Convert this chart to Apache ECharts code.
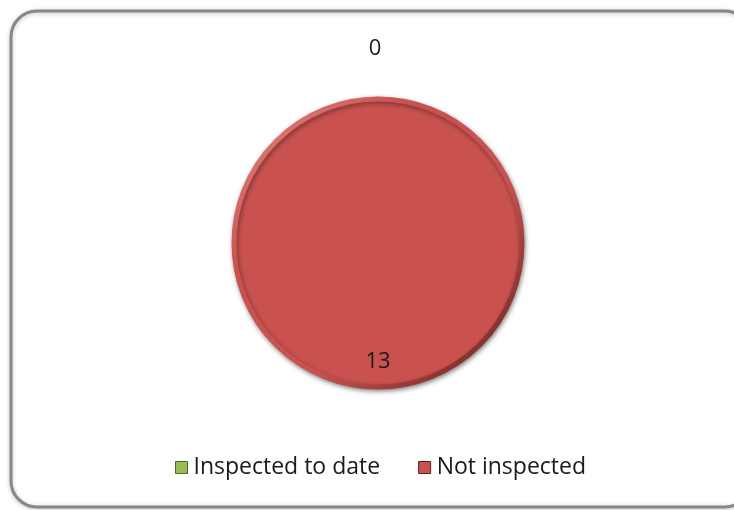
<!DOCTYPE html>
<html>
<head>
<meta charset="utf-8">
<style>
  html, body { margin: 0; padding: 0; background: #ffffff; }
  #chart { width: 734px; height: 510px; }
</style>
<script src="https://cdn.jsdelivr.net/npm/echarts@6/dist/echarts.min.js"></script>
</head>
<body>
<div id="chart"></div>
<script>
// Inspection status counts
const categories = ['Inspected to date', 'Not inspected'];
const counts = [0, 13];
const sliceColors = ['#9bbb59', '#c9524f'];
const lightRims = ['#c4dc8f', '#e88e89'];
const darkRims = ['#4f6a22', '#5e1c1a'];

const chart = echarts.init(document.getElementById('chart'));

// Bevelled look: flat face, rim lit from the top-left and shaded at the bottom-right
function rim(i) {
  return {
    type: 'linear', x: 0, y: 0, x2: 1, y2: 1,
    colorStops: [
      { offset: 0, color: lightRims[i] },
      { offset: 0.3, color: sliceColors[i] },
      { offset: 0.62, color: sliceColors[i] },
      { offset: 1, color: darkRims[i] }
    ]
  };
}

const pieData = categories.map((name, i) => ({
  name: name,
  value: counts[i],
  itemStyle: { color: sliceColors[i], borderColor: rim(i), borderWidth: 5 },
  label: i === 0 ? { position: 'outside' } : { position: 'inside' },
  labelLine: { show: false, length: 50, length2: 0 }
}));

chart.setOption({
  animation: false,
  backgroundColor: '#ffffff',
  graphic: [{
    type: 'rect',
    shape: { x: 11, y: 11, width: 740, height: 496, r: 26 },
    style: { fill: 'none', stroke: '#878787', lineWidth: 3,
             shadowColor: 'rgba(0,0,0,0.25)', shadowBlur: 4, shadowOffsetY: 1 },
    z: 0
  }],
  legend: {
    bottom: 26,
    left: 170,
    itemWidth: 12,
    itemHeight: 12,
    itemGap: 38,
    icon: 'rect',
    textStyle: { fontFamily: 'Open Sans', fontSize: 23, color: '#1a1a1a', padding: [0, 0, 0, 1] },
    data: categories.map((name, i) => ({
      name: name,
      itemStyle: { color: sliceColors[i], borderColor: darkRims[i], borderWidth: 1 }
    }))
  },
  series: [{
    type: 'pie',
    center: [378, 243],
    radius: 144,
    startAngle: 90,
    clockwise: true,
    avoidLabelOverlap: false,
    minShowLabelAngle: 0,
    itemStyle: {
      shadowColor: 'rgba(0,0,0,0.4)',
      shadowBlur: 5,
      shadowOffsetX: 1,
      shadowOffsetY: 2
    },
    label: {
      show: true,
      formatter: '{c}',
      fontFamily: 'Open Sans',
      fontSize: 22,
      color: '#1a1a1a'
    },
    labelLayout: function (params) {
      if (params.dataIndex === 0) return { align: 'center', dx: 2 };
      return { dy: 44 };
    },
    emphasis: { disabled: true },
    data: pieData
  }]
});
</script>
</body>
</html>
